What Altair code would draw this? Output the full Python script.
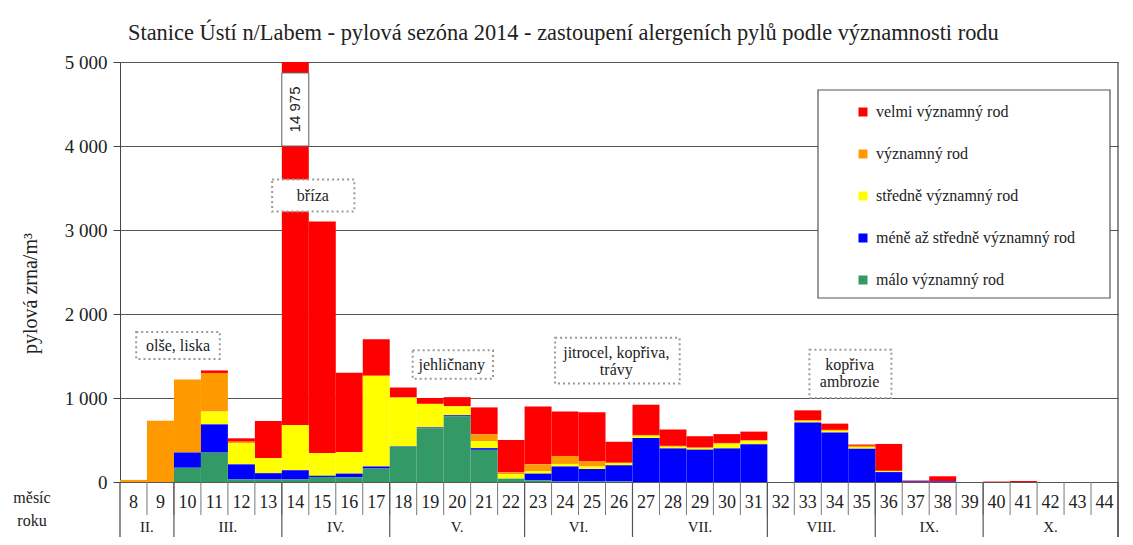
import altair as alt
import pandas as pd

# ---------------- data ----------------
weeks = list(range(8, 45))
categories = ["velmi významný rod", "významný rod", "středně významný rod",
              "méně až středně významný rod", "málo významný rod"]
colors = ["#FF0000", "#FF9900", "#FFFF00", "#0000FF", "#339966"]

velmi = [0, 0, 0, 30, 40, 440, 14295, 2755, 945, 435, 120, 70, 110, 320, 385, 690, 530, 585, 250,
         360, 195, 135, 105, 105, 0, 120, 75, 15, 320, 10, 60, 0, 5, 12, 0, 0, 0]
vyznamny = [25, 730, 870, 460, 20, 0, 0, 0, 0, 0, 0, 0, 0, 80, 20, 80, 95, 60, 5,
            10, 10, 5, 10, 5, 0, 5, 10, 15, 5, 0, 0, 0, 0, 0, 0, 0, 0]
stredne = [0, 0, 0, 152, 250, 180, 540, 270, 255, 1080, 580, 280, 105, 85, 55, 30, 30, 30, 25,
           25, 20, 20, 55, 40, 0, 20, 20, 20, 10, 0, 0, 0, 0, 0, 0, 0, 0]
mene = [0, 0, 180, 336, 180, 75, 110, 15, 45, 25, 5, 10, 15, 20, 0, 80, 180, 150, 195,
        525, 400, 385, 400, 450, 0, 708, 590, 396, 118, 8, 8, 0, 0, 0, 0, 0, 0]
malo = [0, 0, 170, 350, 30, 30, 30, 60, 55, 160, 420, 640, 780, 383, 40, 20, 5, 5, 5,
        0, 0, 0, 0, 0, 0, 0, 0, 0, 0, 0, 0, 0, 0, 0, 0, 0, 0]
series = [velmi, vyznamny, stredne, mene, malo]
stack_rank = [4, 3, 2, 1, 0]  # green at the bottom, red on top

months = ["II.", "III.", "IV.", "V.", "VI.", "VII.", "VIII.", "IX.", "X."]
month_first = [8, 10, 14, 18, 23, 27, 32, 36, 40]
month_last = [9, 13, 17, 22, 26, 31, 35, 39, 44]

y_ticks = [0, 1000, 2000, 3000, 4000, 5000]

break_week = [14]
break_lo = [4000]
break_hi = [4870]
break_label = ["14 975"]

ann_labels = ["olše, liska", "bříza", "jehličnany", "jitrocel, kopřiva,\ntrávy", "kopřiva\nambrozie"]
ann_week = [9.65, 14.65, 19.8, 25.9, 34.55]
ann_value = [1625, 3410, 1397, 1530, 1390]   # first text line
ann_x1 = [8.1, 13.14, 18.35, 23.63, 33.06]
ann_x2 = [11.2, 16.19, 21.33, 28.25, 36.1]
ann_y1 = [1464, 3220, 1230, 1172, 1000]
ann_y2 = [1786, 3600, 1567, 1716, 1575]

title_text = "Stanice Ústí n/Labem - pylová sezóna 2014 - zastoupení alergeních pylů podle významnosti rodu"

# ---------------- tables ----------------
rows = []
for cat, vals, rk in zip(categories, series, stack_rank):
    for w, v in zip(weeks, vals):
        rows.append({"week": w, "cat": cat, "value": v, "ord": rk})
df = pd.DataFrame(rows)

W, H = 998, 420
SERIF = "Liberation Serif"
TXT = "#222222"
LINE = "#555555"

xscale = alt.Scale(domain=[weeks[0] - 0.5, weeks[-1] + 0.5], nice=False, zero=False)
yscale = alt.Scale(domain=[y_ticks[0], y_ticks[-1]], nice=False)

yaxis = alt.Axis(values=y_ticks, labelExpr="replace(format(datum.value, ','), ',', ' ')",
                 grid=True, gridColor=LINE, gridWidth=1.2, domainColor="#444444",
                 tickColor="#444444", tickSize=7, labelPadding=6,
                 labelFont=SERIF, labelFontSize=19, labelColor=TXT,
                 title="pylová zrna/m³", titleFont=SERIF, titleFontSize=20,
                 titleFontWeight="normal", titleColor=TXT, titleAngle=270,
                 titleX=-84, titleY=231, titleBaseline="alphabetic", titleAlign="center")

legend = alt.Legend(title=None, orient="none", legendX=735, legendY=42, padding=0,
                    symbolType="square", symbolSize=81, symbolStrokeWidth=0,
                    labelFont=SERIF, labelFontSize=16, labelColor=TXT, labelLimit=400,
                    labelOffset=5, rowPadding=26)

bars = alt.Chart(df).transform_calculate(
    x0="datum.week - 0.5", x1="datum.week + 0.5"
).transform_stack(
    stack="value", groupby=["week"], as_=["y0", "y1"],
    sort=[alt.SortField("ord", order="ascending")]
).mark_rect(clip=True).encode(
    x=alt.X("x0:Q", scale=xscale, axis=None),
    x2="x1:Q",
    y=alt.Y("y0:Q", scale=yscale, axis=yaxis),
    y2="y1:Q",
    color=alt.Color("cat:N", scale=alt.Scale(domain=categories, range=colors), legend=legend),
)

brk = pd.DataFrame({"week": break_week, "lo": break_lo, "hi": break_hi, "label": break_label})
brk_rect = alt.Chart(brk).transform_calculate(
    x0="datum.week - 0.5", x1="datum.week + 0.5"
).mark_rect(fill="white", stroke="#666666", strokeWidth=1).encode(
    x=alt.X("x0:Q", scale=xscale), x2="x1:Q",
    y=alt.Y("lo:Q", scale=yscale), y2="hi:Q")
brk_text = alt.Chart(brk).transform_calculate(
    mid="(datum.lo + datum.hi) / 2"
).mark_text(angle=270, font="Liberation Sans", fontSize=15, color=TXT,
            align="center", baseline="middle").encode(
    x=alt.X("week:Q", scale=xscale), y=alt.Y("mid:Q", scale=yscale), text="label:N")

ann = pd.DataFrame({"label": ann_labels, "wk": ann_week, "val": ann_value,
                    "x1": ann_x1, "x2": ann_x2, "y1": ann_y1, "y2": ann_y2})
ann_rect = alt.Chart(ann).mark_rect(fill="white", stroke="#9a9a9a", strokeWidth=2,
                                    strokeDash=[2, 3]).encode(
    x=alt.X("x1:Q", scale=xscale), x2="x2:Q",
    y=alt.Y("y1:Q", scale=yscale), y2="y2:Q")
ann_text = alt.Chart(ann).mark_text(font=SERIF, fontSize=16, color=TXT, lineBreak="\n",
                                    lineHeight=17, align="center", baseline="middle").encode(
    x=alt.X("wk:Q", scale=xscale), y=alt.Y("val:Q", scale=yscale), text="label:N")

# legend frame
frame_df = pd.DataFrame({"k": [0]})
legend_box = alt.Chart(frame_df).mark_rect(fill="white", stroke="#555555", strokeWidth=1.2).encode(
    x=alt.value(698), x2=alt.value(990), y=alt.value(28), y2=alt.value(236))

# title
title_df = pd.DataFrame({"t": [title_text]})
title = alt.Chart(title_df).mark_text(font=SERIF, fontSize=22.4, color=TXT, align="left",
                                      baseline="alphabetic").encode(
    x=alt.value(8), y=alt.value(-22), text="t:N")

# bottom table
wk_df = pd.DataFrame({"week": weeks, "lab": [str(w) for w in weeks]})
wk_text = alt.Chart(wk_df).mark_text(font=SERIF, fontSize=18, color=TXT, baseline="middle").encode(
    x=alt.X("week:Q", scale=xscale), y=alt.value(H + 21), text="lab:N")
sep_df = pd.DataFrame({"b": [w + 0.5 for w in weeks[:-1]]})
wk_sep = alt.Chart(sep_df).mark_rule(color="#777777", strokeWidth=1).encode(
    x=alt.X("b:Q", scale=xscale), y=alt.value(H), y2=alt.value(H + 33))
mon_df = pd.DataFrame({"m": months, "f": month_first, "l": month_last})
mon_sep = alt.Chart(mon_df).transform_calculate(b="datum.l + 0.5").mark_rule(
    color="#555555", strokeWidth=1.2).encode(
    x=alt.X("b:Q", scale=xscale), y=alt.value(H), y2=alt.value(H + 70))
mon_text = alt.Chart(mon_df).transform_calculate(c="(datum.f + datum.l) / 2").mark_text(
    font=SERIF, fontSize=15, color=TXT, baseline="middle").encode(
    x=alt.X("c:Q", scale=xscale), y=alt.value(H + 45), text="m:N")
left_border = alt.Chart(frame_df).transform_calculate(b=str(weeks[0] - 0.5)).mark_rule(
    color="#444444", strokeWidth=1.2).encode(
    x=alt.X("b:Q", scale=xscale), y=alt.value(H), y2=alt.value(H + 70))
right_border = alt.Chart(frame_df).transform_calculate(b=str(weeks[-1] + 0.5)).mark_rule(
    color="#444444", strokeWidth=1.2).encode(
    x=alt.X("b:Q", scale=xscale), y=alt.value(0), y2=alt.value(H + 70))
row_lab = alt.Chart(pd.DataFrame({"t": ["měsíc\nroku"]})).mark_text(
    font=SERIF, fontSize=16, color=TXT, lineBreak="\n", lineHeight=23,
    align="center", baseline="middle").encode(
    x=alt.value(-88), y=alt.value(H + 16), text="t:N")

chart = alt.layer(
    bars, brk_rect, brk_text, ann_rect, ann_text, legend_box, title,
    wk_text, wk_sep, mon_sep, mon_text, left_border, right_border, row_lab
).properties(
    width=W, height=H,
    autosize=alt.AutoSizeParams(type="none"),
    padding={"left": 112, "top": 54, "right": 7, "bottom": 55},
    background="white",
).configure_view(stroke=None)

chart.save("out.html", embed_options={"renderer": "svg", "actions": False})
